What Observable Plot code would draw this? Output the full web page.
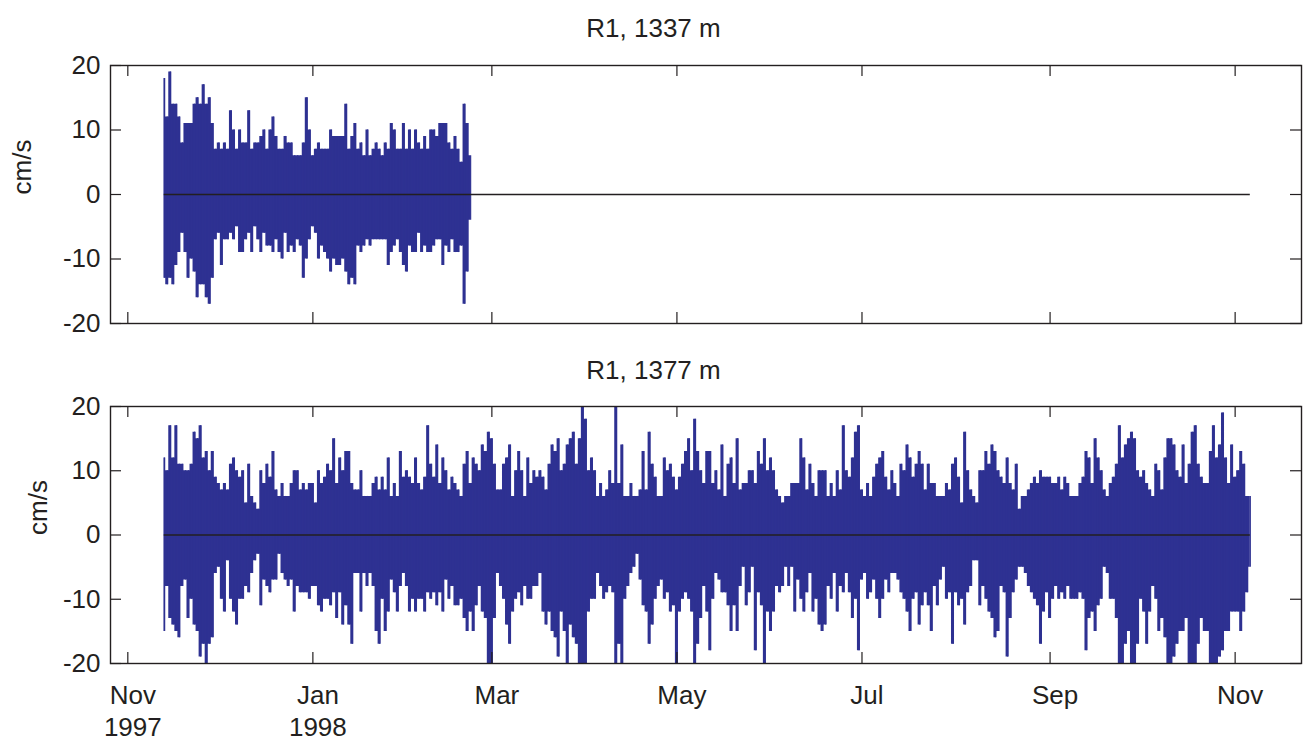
<!DOCTYPE html>
<html><head><meta charset="utf-8">
<script src="https://cdn.jsdelivr.net/npm/d3@7"></script>
<script src="https://cdn.jsdelivr.net/npm/@observablehq/plot@0.6"></script>
<style>
body{margin:0;background:#fff;}
#wrap{position:relative;width:1307px;height:741px;font-family:"Liberation Sans",Arial,Helvetica,sans-serif;color:#231f20;}
.title{position:absolute;left:0;width:1307px;text-align:center;font-size:26px;line-height:30px;}
#p1 svg,#p2 svg{display:block;}
</style></head><body>
<div id="wrap">
  <div id="p1"></div>
  <div id="p2"></div>
  <div class="title" style="top:13px">R1, 1337 m</div>
  <div class="title" style="top:355px">R1, 1377 m</div>
</div>
<script>
// ---- data (daily max / min of the stick series, cm/s) ----
const startDate = "1997-11-13";          // first daily sample
const zeroSpan = ["1997-11-13", "1998-11-06"];
const xDomain = ["1997-10-26T07:00Z", "1998-11-22T21:00Z"];
const tickDates = ["1997-11-01", "1998-01-01", "1998-03-01", "1998-05-01", "1998-07-01", "1998-09-01", "1998-11-01"];
const tickLabels = ["Nov\n1997", "Jan\n1998", "Mar", "May", "Jul", "Sep", "Nov"];
const yTicks = [-20, -10, 0, 10, 20];

// R1, 1337 m (13 Nov 1997 – 22 Feb 1998)
const r1337Hi = [
  18,12,19,14,14,12,8,11,11,11,
  14,15,14,17,14,15,11,7,8,7,
  8,7,13,10,7,10,8,8,13,7,
  8,8,9,10,7,10,12,9,7,7,
  9,8,8,6,6,6,8,15,10,6,
  7,8,7,7,7,10,9,9,9,9,
  14,7,9,11,7,8,6,10,6,7,
  8,7,6,8,7,11,10,7,7,11,
  7,10,7,10,8,7,9,7,10,10,
  9,11,11,11,8,7,9,7,5,14,
  11,6];
const r1337Lo = [
  -13,-14,-13,-14,-11,-9,-6,-9,-13,-10,
  -12,-16,-14,-14,-16,-17,-13,-7,-6,-11,
  -7,-7,-6,-7,-5,-9,-9,-7,-6,-9,
  -5,-7,-9,-6,-8,-8,-9,-7,-9,-10,
  -6,-9,-8,-9,-7,-8,-13,-10,-7,-5,
  -6,-10,-8,-9,-10,-12,-10,-11,-11,-10,
  -12,-14,-13,-14,-8,-9,-8,-7,-8,-7,
  -7,-7,-7,-7,-11,-9,-8,-7,-9,-11,
  -12,-8,-9,-9,-6,-9,-8,-9,-9,-8,
  -7,-7,-11,-8,-9,-7,-9,-9,-8,-17,
  -12,-4];

// R1, 1377 m (13 Nov 1997 – 6 Nov 1998)
const r1377Hi = [
  12,10,17,12,17,11,11,10,10,11,
  16,15,17,12,13,10,13,9,8,7,
  8,7,11,12,10,9,10,5,11,6,
  5,4,10,8,11,9,13,7,6,8,
  6,6,8,10,10,7,8,7,8,8,
  5,10,8,9,11,10,15,
  8,12,10,13,13,8,7,7,10,6,
  6,6,8,9,7,9,7,12,6,8,
  6,13,9,10,9,8,12,8,7,9,
  17,11,9,14,8,12,10,7,9,8,
  7,6,11,13,8,12,11,10,14,13,
  16,15,11,7,7,11,12,14,6,10,13,
  10,6,12,8,10,9,10,9,7,11,
  14,13,15,10,11,14,15,16,11,15,
  20,18,10,12,10,6,8,6,7,10,
  8,20,8,14,6,6,8,6,6,7,
  13,7,16,11,9,6,6,12,10,11,
  9,7,9,11,13,15,10,18,
  13,10,8,13,13,8,10,7,14,6,
  11,12,8,15,7,8,8,10,10,8,
  13,11,15,10,12,10,7,6,5,6,
  6,8,8,8,15,12,7,11,8,6,
  10,10,10,6,8,6,10,7,17,10,
  9,12,16,17,7,6,8,6,9,11,12,
  13,9,7,10,8,6,11,10,14,12,
  9,11,13,11,7,11,8,8,6,6,
  6,8,7,11,12,9,5,16,10,7,
  6,5,10,10,13,11,14,13,10,9,
  8,12,8,7,11,4,6,6,7,8,
  9,8,10,9,9,9,8,8,9,
  7,9,8,6,6,6,8,9,13,12,
  8,15,12,10,7,6,8,9,11,17,
  12,14,15,16,15,10,9,10,8,7,
  6,11,10,7,12,15,15,14,10,9,
  14,8,11,16,17,11,9,8,8,13,
  17,12,14,19,12,8,14,9,10,13,
  11,6,6];
const r1377Lo = [
  -15,-8,-13,-14,-15,-16,-8,-7,-13,-10,
  -14,-15,-19,-17,-20,-17,-16,-6,-5,-10,
  -12,-4,-10,-12,-14,-10,-10,-8,-9,-6,
  -4,-3,-11,-7,-8,-9,-7,-7,-3,-6,
  -7,-8,-7,-12,-8,-9,-9,-9,-10,-8,
  -8,-11,-12,-10,-10,-11,-9,
  -13,-9,-14,-11,-14,-17,-6,-6,-12,-6,
  -8,-6,-8,-15,-17,-10,-15,-12,-7,-9,
  -12,-8,-6,-8,-12,-10,-12,-10,-10,-12,
  -9,-10,-9,-11,-9,-12,-7,-10,-8,-11,
  -11,-10,-13,-15,-12,-15,-11,-8,-12,-13,
  -20,-20,-13,-6,-8,-10,-14,-17,-12,-10,-9,
  -11,-8,-10,-10,-8,-8,-6,-12,-14,-12,
  -15,-16,-19,-12,-15,-20,-14,-16,-17,-20,
  -20,-20,-12,-10,-10,-6,-8,-10,-9,-8,
  -9,-20,-17,-20,-10,-8,-6,-5,-3,-7,
  -11,-12,-17,-14,-10,-8,-7,-10,-9,-12,
  -11,-20,-12,-10,-9,-10,-12,-20,
  -17,-13,-8,-12,-18,-10,-6,-7,-9,-9,
  -11,-15,-11,-15,-8,-5,-11,-9,-5,-18,
  -9,-11,-20,-12,-15,-12,-8,-9,-8,-5,
  -8,-5,-12,-7,-10,-12,-9,-6,-12,-10,
  -14,-15,-14,-8,-10,-6,-12,-8,-9,-6,
  -9,-13,-10,-18,-7,-6,-10,-9,-7,-10,-13,
  -10,-7,-9,-6,-6,-7,-9,-10,-12,-15,
  -10,-9,-14,-11,-9,-11,-15,-8,-11,-7,
  -5,-10,-9,-17,-9,-11,-10,-14,-9,-8,
  -4,-4,-11,-8,-10,-12,-13,-16,-15,-8,
  -9,-19,-13,-9,-7,-5,-5,-6,-8,-9,
  -10,-11,-17,-12,-9,-13,-10,-8,-10,
  -9,-10,-8,-10,-10,-10,-9,-10,-18,-13,
  -12,-15,-11,-10,-5,-6,-10,-10,-13,-20,
  -20,-17,-15,-20,-20,-17,-10,-12,-17,-12,
  -8,-10,-15,-13,-16,-20,-20,-19,-17,-15,
  -15,-13,-20,-20,-20,-17,-13,-15,-15,-20,
  -20,-20,-19,-18,-15,-15,-12,-12,-12,-15,
  -12,-9,-5];

// ---- drawing ----
const ink = "#231f20", navy = "#2e3192";
const W = 1307, ML = 110, MR = 6;
const t0 = new Date(startDate);
const labelOf = new Map(tickDates.map((d, i) => [+new Date(d), tickLabels[i]]));

function panel(hi, lo, {height, marginTop, marginBottom, showX, labelDx}) {
  const rows = hi.map((h, i) => ({date: d3.utcDay.offset(t0, i), hi: h, lo: lo[i]}));
  const fw = W - ML - MR, fh = height - marginTop - marginBottom;
  const ticksX = tickDates.map(d => new Date(d));
  const marks = [
    Plot.areaY(rows, {x: "date", y1: "lo", y2: "hi", fill: navy, curve: "step"}),
    Plot.ruleX(rows, {x: "date", y1: "lo", y2: "hi", stroke: navy, strokeWidth: 1.2}),
    Plot.ruleY([0], {x1: () => new Date(zeroSpan[0]), x2: () => new Date(zeroSpan[1]), stroke: ink, strokeWidth: 1.6}),
    Plot.tickY(yTicks, {y: d => d, stroke: ink, strokeWidth: 1.2, insetRight: fw - 11}),
    Plot.tickY(yTicks, {y: d => d, stroke: ink, strokeWidth: 1.2, insetLeft: fw - 11}),
    Plot.tickX(ticksX, {x: d => d, stroke: ink, strokeWidth: 1.2, insetTop: fh - 11}),
    Plot.tickX(ticksX, {x: d => d, stroke: ink, strokeWidth: 1.2, insetBottom: fh - 11}),
    Plot.frame({stroke: ink, strokeWidth: 1.4}),
    Plot.axisY({ticks: yTicks, tickSize: 0, tickPadding: 10, label: null, fill: ink, tickFormat: d => String(d)}),
    Plot.text(["cm/s"], {frameAnchor: "left", rotate: -90, dx: labelDx, fill: ink})
  ];
  if (showX) marks.push(Plot.axisX({ticks: ticksX, tickSize: 0, tickPadding: 18, dx: 5, lineHeight: 1.22,
    tickFormat: d => labelOf.get(+d), label: null, fill: ink}));
  return Plot.plot({
    width: W, height, marginLeft: ML, marginRight: MR, marginTop, marginBottom,
    style: {fontFamily: '"Liberation Sans", Arial, Helvetica, sans-serif', fontSize: "26px", color: ink, background: "transparent", overflow: "visible"},
    x: {type: "utc", domain: xDomain.map(d => new Date(d)), axis: showX ? undefined : null},
    y: {domain: [-20, 20]},
    marks
  });
}

document.getElementById("p1").append(panel(r1337Hi, r1337Lo, {height: 340, marginTop: 65, marginBottom: 17, showX: false, labelDx: -88}));
document.getElementById("p2").append(panel(r1377Hi, r1377Lo, {height: 401, marginTop: 66, marginBottom: 78, showX: true, labelDx: -72}));
</script>
</body></html>
